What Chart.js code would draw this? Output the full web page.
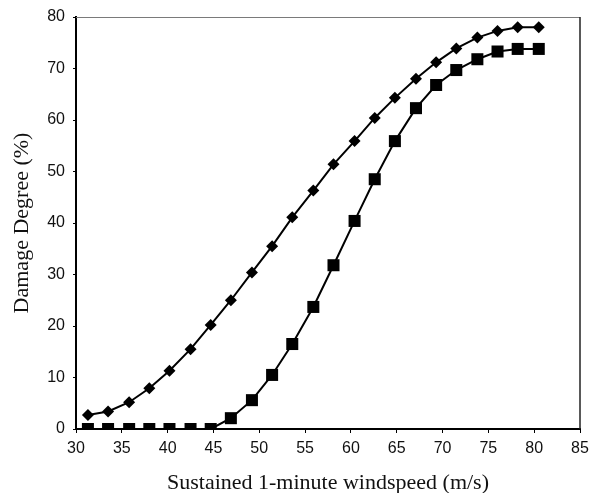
<!DOCTYPE html>
<html>
<head>
<meta charset="utf-8">
<script src="https://cdn.jsdelivr.net/npm/chart.js@4/dist/chart.umd.min.js"></script>
<style>
html,body{margin:0;padding:0;background:#fff;}
#wrap{width:589px;height:493px;}
</style>
</head>
<body>
<div id="wrap"><canvas id="c" width="589" height="493"></canvas></div>
<script>
// Windspeeds (m/s), 70..180 mph converted
const windspeed = [31.3, 33.5, 35.8, 38.0, 40.2, 42.5, 44.7, 46.9, 49.2, 51.4, 53.6, 55.9, 58.1, 60.4, 62.6, 64.8, 67.1, 69.3, 71.5, 73.8, 76.0, 78.2, 80.5];
const diamondSeries = [2.7, 3.4, 5.2, 7.9, 11.3, 15.5, 20.2, 25.0, 30.4, 35.5, 41.1, 46.3, 51.4, 55.9, 60.4, 64.3, 68.0, 71.2, 73.9, 76.0, 77.3, 78.0, 78.0];
const squareSeries = [0, 0, 0, 0, 0, 0, 0, 2.1, 5.6, 10.5, 16.5, 23.7, 31.8, 40.4, 48.5, 55.9, 62.3, 66.8, 69.7, 71.8, 73.3, 73.8, 73.8];
const xTitle = 'Sustained 1-minute windspeed (m/s)';
const yTitle = 'Damage Degree (%)';

const toPts = (ys) => windspeed.map((x, i) => ({x: x, y: ys[i]}));

const frame = {
  id: 'frame',
  afterDatasetsDraw(chart) {
    const a = chart.chartArea, ctx = chart.ctx;
    ctx.save();
    ctx.strokeStyle = '#7a7a7a';
    ctx.lineWidth = 1;
    ctx.beginPath();
    ctx.moveTo(a.left, a.top + 0.5);
    ctx.lineTo(a.right, a.top + 0.5);
    ctx.stroke();
    ctx.strokeStyle = '#222';
    ctx.lineWidth = 1.5;
    ctx.beginPath();
    ctx.moveTo(a.right, a.top);
    ctx.lineTo(a.right, a.bottom);
    ctx.stroke();
    ctx.restore();
  }
};

new Chart(document.getElementById('c'), {
  type: 'line',
  data: {
    datasets: [
      {
        label: 'A',
        data: toPts(diamondSeries),
        borderColor: '#000',
        backgroundColor: '#000',
        borderWidth: 2,
        pointStyle: 'rectRot',
        pointRadius: 6,
        pointBorderWidth: 0,
        tension: 0
      },
      {
        label: 'B',
        data: toPts(squareSeries),
        borderColor: '#000',
        backgroundColor: '#000',
        borderWidth: 2,
        pointStyle: 'rect',
        pointRadius: 8.5,
        pointBorderWidth: 0,
        tension: 0
      }
    ]
  },
  options: {
    responsive: false,
    animation: false,
    events: [],
    layout: {padding: {left: 0, right: 9, top: 17, bottom: 0}},
    plugins: {legend: {display: false}, tooltip: {enabled: false}},
    scales: {
      x: {
        type: 'linear',
        min: 30, max: 85,
        afterFit(s) { s.height = 64; s.paddingRight = 0; s.paddingLeft = 0; },
        ticks: {stepSize: 5, color: '#111', font: {family: 'Liberation Sans', size: 16}, padding: 6, maxRotation: 0},
        grid: {drawOnChartArea: false, drawTicks: true, tickLength: 4, color: '#000', lineWidth: 1},
        border: {color: '#000', width: 2},
        title: {display: true, text: xTitle, color: '#111', font: {family: 'Liberation Serif', size: 22}, padding: {top: 0, bottom: -3}}
      },
      y: {
        min: 0, max: 80,
        afterFit(s) { s.width = 76; s.paddingTop = 0; s.paddingBottom = 0; },
        ticks: {stepSize: 10, color: '#111', font: {family: 'Liberation Sans', size: 16}, padding: 8},
        grid: {drawOnChartArea: false, drawTicks: true, tickLength: 3, color: '#000', lineWidth: 1},
        border: {color: '#000', width: 2},
        title: {display: true, text: yTitle, color: '#111', font: {family: 'Liberation Serif', size: 22}, padding: {top: 9, bottom: 0}}
      }
    }
  },
  plugins: [frame]
});
</script>
</body>
</html>
